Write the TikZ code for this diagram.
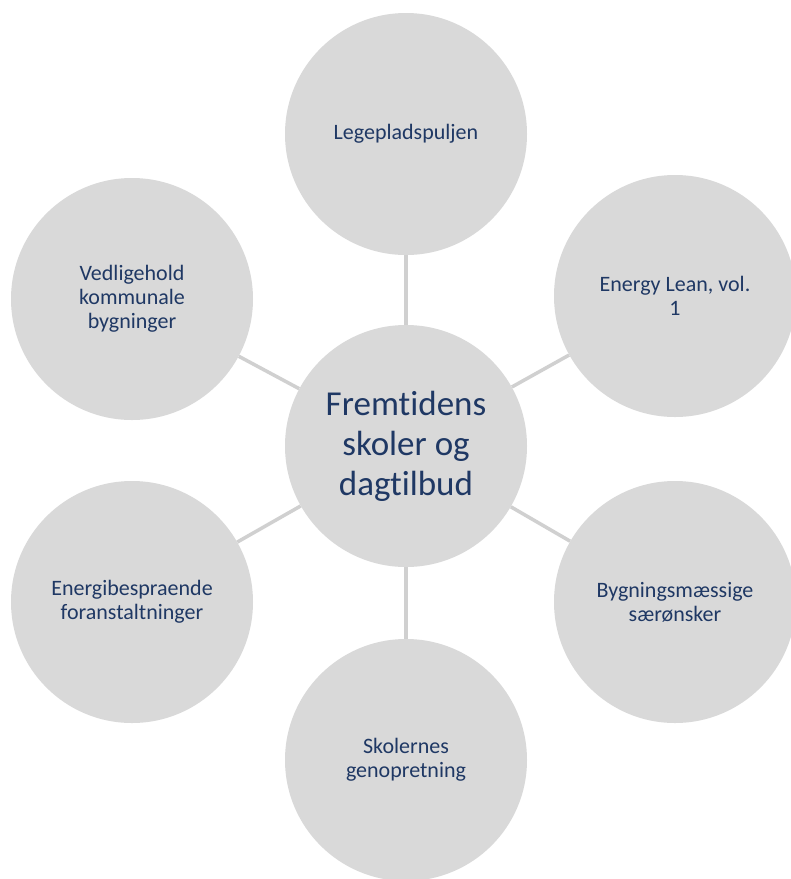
\documentclass[tikz,border=0pt]{standalone}
\usepackage{fontspec}
\setmainfont{Carlito}[Ligatures=NoCommon]
\usepackage{tikz}
\usetikzlibrary{calc}
\usepackage{xcolor}
\definecolor{bubblegrey}{HTML}{D9D9D9}
\definecolor{linkgrey}{HTML}{D0D0D0}
\definecolor{textnavy}{HTML}{1F3864}

\tikzset{
    bubble/.style = {circle, fill=bubblegrey, minimum size=242pt, inner sep=0pt,
                     text=textnavy, align=center, font=\fontsize{22}{24}\selectfont},
    hub/.style    = {bubble, font=\fontsize{35}{40}\selectfont},
    link/.style   = {-, draw=linkgrey, line width=3.5pt}
}

\begin{document}
\begin{tikzpicture}[x=1pt, y=-1pt]
        \useasboundingbox[fill=white] (0, 0) rectangle (791, 879);

        \node[hub](FS) at (406, 446){Fremtidens\\skoler og\\dagtilbud};

        \node[bubble](LP) at (406, 134){Legepladspuljen};
        \node[bubble](EL) at (675, 296){Energy Lean, vol.\\1};
        \node[bubble](BS) at (675, 602){Bygningsmæssige\\særønsker};
        \node[bubble](SG) at (406, 760){Skolernes\\genopretning};
        \node[bubble](EF) at (132, 602){Energibespraende\\foranstaltninger};
        \node[bubble](VK) at (132, 299){Vedligehold\\kommunale\\bygninger};

        \path[link] (FS) edge (LP);
        \path[link] (FS) edge (EL);
        \path[link] (FS) edge (BS);
        \path[link] (FS) edge (SG);
        \path[link] (FS) edge (EF);
        \path[link] (FS) edge (VK);
    \end{tikzpicture}
\end{document}
